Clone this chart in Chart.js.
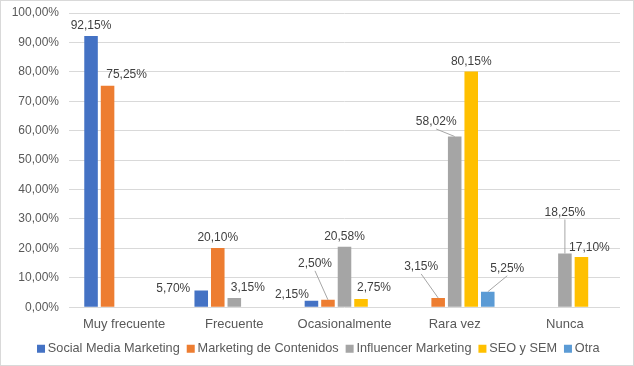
<!DOCTYPE html>
<html>
<head>
<meta charset="utf-8">
<script src="https://cdn.jsdelivr.net/npm/chart.js@4"></script>
<style>
  html, body { margin: 0; padding: 0; background: #fff; }
  #wrap { position: relative; width: 634px; height: 366px; box-sizing: border-box; border: 1px solid #d9d9d9; }
</style>
</head>
<body>
<div id="wrap"><canvas id="chart" width="632" height="364"></canvas></div>
<script>
const categories = ['Muy frecuente', 'Frecuente', 'Ocasionalmente', 'Rara vez', 'Nunca']
const socialMedia = [92.15, 5.70, 2.15, null, null]
const contenidos = [75.25, 20.10, 2.50, 3.15, null]
const influencer = [null, 3.15, 20.58, 58.02, 18.25]
const seoSem = [null, null, 2.75, 80.15, 17.10]
const otra = [null, null, null, 5.25, null]
const yTicks = [0, 10, 20, 30, 40, 50, 60, 70, 80, 90, 100]

const seriesNames = ['Social Media Marketing', 'Marketing de Contenidos', 'Influencer Marketing', 'SEO y SEM', 'Otra']
const seriesColors = ['#4472C4', '#ED7D31', '#A5A5A5', '#FFC000', '#5B9BD5']

const fontFamily = '"Liberation Sans", Arial, sans-serif'
const fmt = v => v.toFixed(2).replace('.', ',') + '%'

// label placement tweaks: "dataset,index" -> [dx, dy, leader line]
const labelPos = {
    '1,0': [19, -11, false],
    '0,1': [-28, -2, false],
    '2,1': [13.5, -10, false],
    '0,2': [-19.5, -6, false],
    '1,2': [-13, -36, true],
    '3,2': [13, -11, false],
    '1,3': [-17, -31, true],
    '2,3': [-18.5, -14.5, true],
    '4,3': [19.5, -23, true],
    '2,4': [0, -41, true],
    '3,4': [8, -9, false]
}

const barLabels = {
    id: 'barLabels',
    afterDatasetsDraw(chart) {
        const ctx = chart.ctx;
        ctx.save();
        ctx.font = '12px ' + fontFamily;
        ctx.textAlign = 'center';
        ctx.textBaseline = 'middle';
        chart.data.datasets.forEach((ds, di) => {
            const meta = chart.getDatasetMeta(di);
            meta.data.forEach((bar, i) => {
                const v = ds.data[i];
                if (v == null) return;
                const p = labelPos[di + ',' + i] || [0, -10, false];
                const tx = bar.x + p[0];
                const ty = bar.y + p[1];
                if (p[2]) {
                    ctx.strokeStyle = '#A6A6A6';
                    ctx.lineWidth = 1;
                    ctx.beginPath();
                    ctx.moveTo(tx, ty + 7);
                    ctx.lineTo(bar.x, bar.y);
                    ctx.stroke();
                }
                ctx.fillStyle = '#404040';
                ctx.fillText(fmt(v), tx, ty);
            });
        });
        ctx.restore();
    }
}

// nudge the legend row a bit to the right, like the original
const legendNudge = {
    id: 'legendNudge',
    afterLayout(chart) {
        if (!chart.legend) return;
        chart.legend.left += 9.5;
        chart.legend.right += 9.5;
    }
}

const allSeries = [socialMedia, contenidos, influencer, seoSem, otra]

new Chart(document.getElementById('chart'), {
    type: 'bar',
    data: {
        labels: categories,
        datasets: allSeries.map((d, i) => ({
            label: seriesNames[i],
            data: d,
            backgroundColor: seriesColors[i],
            barPercentage: 0.82,
            categoryPercentage: 0.75
        }))
    },
    options: {
        responsive: false,
        animation: false,
        layout: { padding: { top: 12, right: 13, bottom: 0, left: 0 } },
        plugins: {
            tooltip: { enabled: false },
            legend: {
                position: 'bottom',
                labels: {
                    usePointStyle: true,
                    pointStyle: 'rect',
                    boxWidth: 1,
                    boxHeight: 8,
                    padding: 10.5,
                    color: '#595959',
                    font: { family: fontFamily, size: 12.7 }
                }
            }
        },
        scales: {
            x: {
                grid: { display: false },
                border: { display: false },
                afterFit: s => { s.height -= 1 },
                ticks: {
                    color: '#595959',
                    padding: 1,
                    font: { family: fontFamily, size: 13 }
                }
            },
            y: {
                min: 0,
                max: 100,
                afterBuildTicks: s => { s.ticks = yTicks.map(v => ({ value: v })) },
                afterFit: s => { s.width = 68; s.paddingTop = 0; s.paddingBottom = 0 },
                grid: { color: '#D9D9D9', drawTicks: false },
                border: { display: false },
                ticks: {
                    color: '#595959',
                    padding: 10,
                    callback: v => fmt(v),
                    font: { family: fontFamily, size: 12 }
                }
            }
        }
    },
    plugins: [barLabels, legendNudge]
});
</script>
</body>
</html>
